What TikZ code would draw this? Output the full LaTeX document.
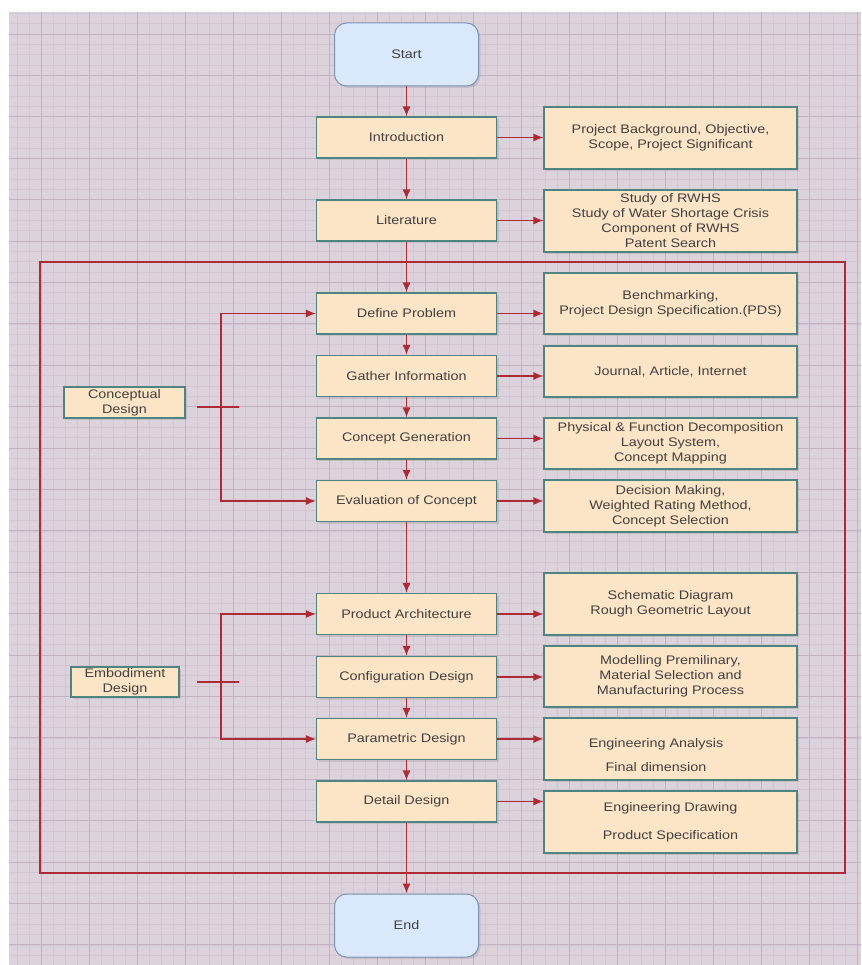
\documentclass[tikz,border=0pt]{standalone}
\usepackage{fontspec}
\setmainfont{Liberation Sans}
\usepackage{graphicx}
\usetikzlibrary{arrows.meta,shadows}
\definecolor{bgc}{HTML}{DCD2DC}
\definecolor{gminor}{HTML}{D2C6D2}
\definecolor{gmajor}{HTML}{C2B2C2}
\definecolor{redl}{HTML}{AE2A35}
\definecolor{boxfill}{HTML}{FCE4C6}
\definecolor{boxdraw}{HTML}{4F8580}
\definecolor{termfill}{HTML}{DAE8FC}
\definecolor{termdraw}{HTML}{7A93B8}
\definecolor{txt}{HTML}{404040}
\newcommand{\sq}[1]{\scalebox{1}[0.8625]{#1}}
\begin{document}
\begin{tikzpicture}[x=1pt,y=-1pt,
  every node/.style={font=\fontsize{14.4}{15}\selectfont, text=txt, align=center, inner sep=0pt},
  shad/.style={drop shadow={opacity=0.22, shadow xshift=2pt, shadow yshift=-2pt}},
  proc/.style={shad, draw=boxdraw, fill=boxfill, line width=1.1pt, rectangle, minimum width=180pt, minimum height=41pt},
  rbox/.style={shad, draw=boxdraw, fill=boxfill, line width=1.1pt, rectangle, minimum width=253pt},
  term/.style={shad, draw=termdraw, fill=termfill, line width=1pt, rounded corners=12pt, minimum width=144pt, minimum height=63pt},
  plain/.style={inner sep=0pt},
  ln/.style={draw=redl, line width=1.3pt},
  arr/.style={ln, -{Latex[length=10pt,width=8pt]}},
  darr/.style={ln, {Latex[length=10pt,width=8pt]}-{Latex[length=10pt,width=8pt]}},
]
\useasboundingbox (0,0) rectangle (861,965);
% background and grid
\fill[white] (0,0) rectangle (861,965);
\fill[bgc] (9,12) rectangle (861,965);
\begin{scope}
\clip (9,12) rectangle (861,965);
\foreach \i in {0,...,70} \draw[gminor, line width=0.6pt] ({17+12*\i},12) -- ({17+12*\i},965);
\foreach \i in {0,...,92} \draw[gminor, line width=0.6pt] (9,{13.3+10.35*\i}) -- (861,{13.3+10.35*\i});
\foreach \i in {0,...,17} \draw[gmajor, line width=0.8pt] ({41+48*\i},12) -- ({41+48*\i},965);
\foreach \i in {0,...,22} \draw[gmajor, line width=0.8pt] (9,{34+41.4*\i}) -- (861,{34+41.4*\i});
\end{scope}
% frame
\draw[ln] (40,262) rectangle (845,873);
% main column
\node[term] (start) at (406.5,54.5) {\sq{Start}};
\node[proc] (intro) at (406.5,137.5) {\sq{Introduction}};
\node[proc] (lit) at (406.5,220.5) {\sq{Literature}};
\node[proc] (def) at (406.5,313.5) {\sq{Define Problem}};
\node[proc] (gat) at (406.5,376) {\sq{Gather Information}};
\node[proc] (cg) at (406.5,438.5) {\sq{Concept Generation}};
\node[proc] (ev) at (406.5,501) {\sq{Evaluation of Concept}};
\node[proc] (pa) at (406.5,614) {\sq{Product Architecture}};
\node[proc] (cfg) at (406.5,677) {\sq{Configuration Design}};
\node[proc] (par) at (406.5,739) {\sq{Parametric Design}};
\node[proc] (det) at (406.5,801.5) {\sq{Detail Design}};
\node[term] (end) at (406.5,925.5) {\sq{End}};
% right column
\node[rbox, minimum height=62pt] (introR) at (670.5,138) {\sq{Project Background, Objective,}\\\sq{Scope, Project Significant}};
\node[rbox, minimum height=62pt] (litR) at (670.5,221) {\sq{Study of RWHS}\\\sq{Study of Water Shortage Crisis}\\\sq{Component of RWHS}\\\sq{Patent Search}};
\node[rbox, minimum height=61pt] (defR) at (670.5,303.5) {\sq{Benchmarking,}\\\sq{Project Design Specification.(PDS)}};
\node[rbox, minimum height=51pt] (gatR) at (670.5,371.5) {\sq{Journal, Article, Internet}};
\node[rbox, minimum height=51pt] (cgR) at (670.5,443.5) {\sq{Physical \& Function Decomposition}\\\sq{Layout System,}\\\sq{Concept Mapping}};
\node[rbox, minimum height=52pt] (evR) at (670.5,506) {\sq{Decision Making,}\\\sq{Weighted Rating Method,}\\\sq{Concept Selection}};
\node[rbox, minimum height=62pt] (paR) at (670.5,604) {\sq{Schematic Diagram}\\\sq{Rough Geometric Layout}};
\node[rbox, minimum height=61pt] (cfgR) at (670.5,676.5) {\sq{Modelling Premilinary,}\\\sq{Material Selection and}\\\sq{Manufacturing Process}};
\node[rbox, minimum height=62pt] (parR) at (670.5,749) {};
\node[plain] (parRt) at (656,755) {\sq{Engineering Analysis}\\[9pt]\sq{Final dimension}};
\node[rbox, minimum height=62pt] (detR) at (670.5,822) {\sq{Engineering Drawing}\\[13pt]\sq{Product Specification}};
% side labels
\node[proc, minimum width=121pt, minimum height=31pt] (cd) at (124.5,402.5) {\sq{Conceptual}\\\sq{Design}};
\node[proc, minimum width=108pt, minimum height=30pt] (ed) at (125,682) {\sq{Embodiment}\\\sq{Design}};
% vertical connectors
\draw[arr] (start) -- (intro);
\draw[arr] (intro) -- (lit);
\draw[arr] (lit) -- (def);
\draw[arr] (def) -- (gat);
\draw[arr] (gat) -- (cg);
\draw[arr] (cg) -- (ev);
\draw[arr] (ev) -- (pa);
\draw[arr] (pa) -- (cfg);
\draw[arr] (cfg) -- (par);
\draw[arr] (par) -- (det);
\draw[arr] (det) -- (end);
% horizontal connectors
\foreach \a/\b in {intro/introR, lit/litR, def/defR, gat/gatR, cg/cgR, ev/evR, pa/paR, cfg/cfgR, par/parR, det/detR}
  \draw[arr] (\a.east) -- (\b.west |- \a.east);
% brackets
\coordinate (cv) at (221,0);
\coordinate (cdt1) at (197,407);
\coordinate (cdt2) at (239,407);
\coordinate (edt1) at (197,682);
\coordinate (edt2) at (239,682);
\draw[ln, line width=1.1pt] (cdt1) -- (cdt2);
\draw[ln, line width=1.1pt] (edt1) -- (edt2);
\draw[darr] (def.west) -- (def.west -| cv) -- (ev.west -| cv) -- (ev.west);
\draw[darr] (pa.west) -- (pa.west -| cv) -- (par.west -| cv) -- (par.west);
\end{tikzpicture}
\end{document}
